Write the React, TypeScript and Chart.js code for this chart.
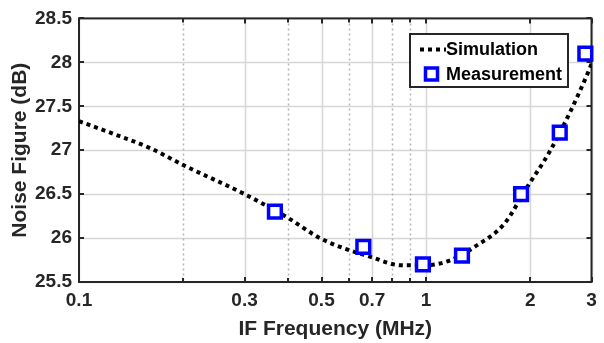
import React, { useEffect, useRef } from "react";
import { Chart, registerables } from "chart.js";

Chart.register(...registerables);

// ---- data ----
const simFreq = [0.1, 0.121, 0.161, 0.2, 0.3, 0.4, 0.5, 0.7, 0.85, 1.0, 1.18, 1.38, 1.68, 1.95, 2.27, 2.6, 2.9, 3.0];
const simNF = [27.33, 27.21, 27.02, 26.83, 26.5, 26.23, 25.99, 25.78, 25.69, 25.69, 25.75, 25.9, 26.16, 26.57, 26.98, 27.43, 27.84, 27.98];
const measFreq = [0.367, 0.66, 0.98, 1.27, 1.88, 2.43, 2.88];
const measNF = [26.3, 25.9, 25.7, 25.8, 26.5, 27.2, 28.1];

const xTickValues = [0.1, 0.2, 0.3, 0.4, 0.5, 0.6, 0.7, 0.8, 0.9, 1, 2, 3];
const xLabelValues = [0.1, 0.3, 0.5, 0.7, 1, 2, 3];
const yTickValues = [25.5, 26, 26.5, 27, 27.5, 28, 28.5];

const seriesNames = ["Simulation", "Measurement"];
const xTitle = "IF Frequency (MHz)";
const yTitle = "Noise Figure (dB)";

const FONT = '"Liberation Sans", Arial, Helvetica, sans-serif';
const TEXT = "#262626";
const SIM_DASH = [4, 4];

const framePlugin = {
  id: "matlabFrame",
  beforeDatasetsDraw(chart: any) {
    const { ctx, chartArea, scales } = chart;
    const { left, right, top, bottom } = chartArea;
    const x = scales.x;
    const y = scales.y;
    ctx.save();
    ctx.strokeStyle = "#d6d6d6";
    ctx.lineWidth = 1.5;
    yTickValues.forEach((v) => {
      const py = Math.round(y.getPixelForValue(v)) + 0.5;
      ctx.beginPath();
      ctx.moveTo(left, py);
      ctx.lineTo(right, py);
      ctx.stroke();
    });
    xTickValues.forEach((v) => {
      const px = Math.round(x.getPixelForValue(v)) + 0.5;
      const major = xLabelValues.includes(v);
      ctx.beginPath();
      if (major) {
        ctx.setLineDash([]);
        ctx.strokeStyle = "#d6d6d6";
      } else {
        ctx.setLineDash([2, 3]);
        ctx.strokeStyle = "#b4b4b4";
      }
      ctx.lineWidth = 1.5;
      ctx.moveTo(px, top);
      ctx.lineTo(px, bottom);
      ctx.stroke();
    });
    ctx.setLineDash([]);
    ctx.strokeStyle = TEXT;
    ctx.lineWidth = 2;
    ctx.strokeRect(left, top, right - left, bottom - top);
    xTickValues.forEach((v) => {
      const px = Math.round(x.getPixelForValue(v));
      const len = xLabelValues.includes(v) ? 5 : 4;
      ctx.beginPath();
      ctx.moveTo(px, bottom);
      ctx.lineTo(px, bottom - len);
      ctx.moveTo(px, top);
      ctx.lineTo(px, top + len);
      ctx.stroke();
    });
    yTickValues.forEach((v) => {
      const py = Math.round(y.getPixelForValue(v));
      ctx.beginPath();
      ctx.moveTo(left, py);
      ctx.lineTo(left + 5, py);
      ctx.moveTo(right, py);
      ctx.lineTo(right - 5, py);
      ctx.stroke();
    });
    ctx.restore();
  },
  afterDraw(chart: any) {
    const { ctx } = chart;
    ctx.save();
    const bx = 410, by = 34, bw = 158, bh = 53;
    ctx.fillStyle = "#ffffff";
    ctx.fillRect(bx, by, bw, bh);
    ctx.strokeStyle = TEXT;
    ctx.lineWidth = 2;
    ctx.strokeRect(bx, by, bw, bh);
    ctx.strokeStyle = "#000000";
    ctx.lineWidth = 4;
    ctx.setLineDash(SIM_DASH);
    ctx.beginPath();
    ctx.moveTo(420, 49.5);
    ctx.lineTo(446, 49.5);
    ctx.stroke();
    ctx.setLineDash([]);
    ctx.fillStyle = "#ffffff";
    ctx.strokeStyle = "#0000ff";
    ctx.lineWidth = 3.5;
    ctx.fillRect(425.5, 68, 12, 12);
    ctx.strokeRect(425.5, 68, 12, 12);
    ctx.fillStyle = "#000000";
    ctx.font = `bold 18px ${FONT}`;
    ctx.textBaseline = "middle";
    ctx.textAlign = "left";
    ctx.fillText(seriesNames[0], 446, 50);
    ctx.fillText(seriesNames[1], 446, 75);
    ctx.restore();
  },
};

export default function App() {
  const ref = useRef<HTMLCanvasElement | null>(null);
  useEffect(() => {
    if (!ref.current) return;
    const chart = new Chart(ref.current, {
      type: "line",
      data: {
        datasets: [
          {
            label: seriesNames[1],
            data: measFreq.map((f, i) => ({ x: f, y: measNF[i] })),
            showLine: false,
            pointStyle: "rect",
            pointRadius: 9,
            pointHoverRadius: 9,
            pointBorderWidth: 3.5,
            pointBorderColor: "#0000ff",
            pointBackgroundColor: "#ffffff",
            borderColor: "#0000ff",
            backgroundColor: "#ffffff",
            clip: false as any,
            order: 0,
          },
          {
            label: seriesNames[0],
            data: simFreq.map((f, i) => ({ x: f, y: simNF[i] })),
            borderColor: "#000000",
            borderWidth: 4,
            borderDash: SIM_DASH,
            pointRadius: 0,
            cubicInterpolationMode: "monotone",
            fill: false,
            order: 1,
          },
        ],
      },
      options: {
        animation: false,
        responsive: false,
        maintainAspectRatio: false,
        devicePixelRatio: 1,
        layout: { padding: { top: 14, right: 5, left: 0, bottom: 0 } },
        plugins: {
          legend: { display: false },
          tooltip: { enabled: false },
        },
        scales: {
          x: {
            type: "logarithmic",
            min: 0.1,
            max: 3,
            afterBuildTicks: (scale: any) => {
              scale.ticks = xTickValues.map((v) => ({ value: v }));
            },
            afterFit: (scale: any) => {
              scale.height = 61;
            },
            grid: { display: false, drawTicks: false },
            border: { display: false },
            ticks: {
              autoSkip: false,
              maxRotation: 0,
              minRotation: 0,
              padding: 7,
              color: TEXT,
              font: { family: FONT, size: 19, weight: "bold" },
              callback: (value: any) =>
                xLabelValues.includes(Number(value)) ? String(value) : "",
            },
            title: {
              display: true,
              text: xTitle,
              color: TEXT,
              font: { family: FONT, size: 21, weight: "bold" },
              padding: { top: 0, bottom: 1 },
            },
          },
          y: {
            type: "linear",
            min: 25.5,
            max: 28.5,
            afterBuildTicks: (scale: any) => {
              scale.ticks = yTickValues.map((v) => ({ value: v }));
            },
            afterFit: (scale: any) => {
              scale.width = 79;
            },
            grid: { display: false, drawTicks: false },
            border: { display: false },
            ticks: {
              padding: 7,
              color: TEXT,
              font: { family: FONT, size: 19, weight: "bold" },
              callback: (value: any) => String(value),
            },
            title: {
              display: true,
              text: yTitle,
              color: TEXT,
              font: { family: FONT, size: 21, weight: "bold" },
              padding: { top: 8, bottom: 0 },
            },
          },
        },
      },
      plugins: [framePlugin],
    } as any);
    return () => chart.destroy();
  }, []);
  return (
    <div style={{ position: "fixed", left: 0, top: 0, width: 604, height: 343, background: "#fff" }}>
      <canvas ref={ref} width={604} height={343} style={{ display: "block" }} />
    </div>
  );
}
